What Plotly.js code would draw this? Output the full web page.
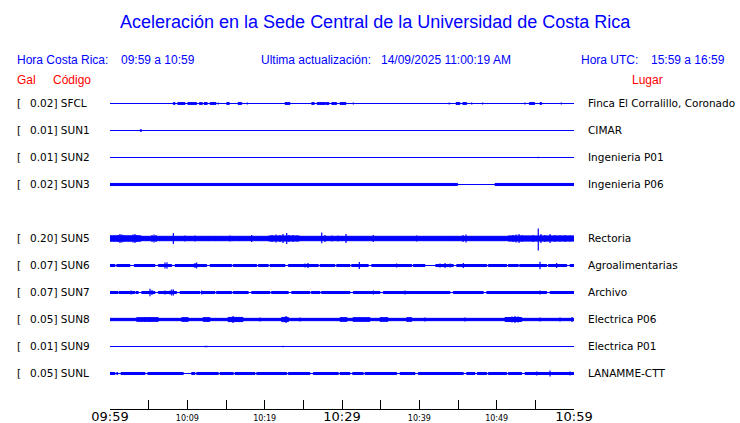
<!DOCTYPE html>
<html><head><meta charset="utf-8">
<script src="https://cdn.plot.ly/plotly-3.0.1.min.js"></script>
<style>html,body{margin:0;padding:0;background:#fff}#chart{width:740px;height:423px}</style>
</head><body><div id="chart"></div>
<script>
// ---- data (times in minutes after 09:59 local, amplitudes in Gal) ----
const stationCodes = ['SFCL','SUN1','SUN2','SUN3','SUN5','SUN6','SUN7','SUN8','SUN9','SUNL'];
const peakGal = ['0.02','0.01','0.01','0.02','0.20','0.07','0.07','0.05','0.01','0.05'];
const places = ['Finca El Corralillo, Coronado','CIMAR','Ingenieria P01','Ingenieria P06','Rectoria','Agroalimentarias','Archivo','Electrica P06','Electrica P01','LANAMME-CTT'];
const tickMinutes = [0,5,10,15,20,25,30,35,40,45,50,55,60];
const tickLabels = ['09:59','','10:09','','10:19','','10:29','','10:39','','10:49','','10:59'];
const bigTickLabels = ['09:59','10:29','10:59'];

// SFCL
const bandSFCL = 0;
const gapsSFCL = [];
const burstsSFCL = [[8.19,8.41,0.016],[8.75,9.70,0.016],[10.05,11.21,0.016],[11.55,11.94,0.016],[12.16,12.58,0.016],[12.93,13.71,0.016],[15.09,15.43,0.016],[16.55,17.03,0.016],[22.63,23.28,0.016],[26.08,26.42,0.016],[26.77,27.80,0.016],[27.89,28.32,0.016],[28.67,29.31,0.016],[29.74,30.52,0.016],[44.74,45.26,0.016],[45.61,46.12,0.016],[54.22,54.92,0.016],[55.60,55.82,0.016]];
const spikesSFCL = [[14.00,0.016],[17.75,0.016],[31.46,0.016],[43.87,0.016],[46.77,0.016],[48.19,0.016],[53.66,0.016],[58.36,0.016]];
// SUN1
const bandSUN1 = 0;
const gapsSUN1 = [];
const burstsSUN1 = [[3.88,4.10,0.012]];
const spikesSUN1 = [[5.73,0.008],[6.04,0.008],[8.70,0.006],[56.55,0.006]];
// SUN2
const bandSUN2 = 0;
const gapsSUN2 = [];
const burstsSUN2 = [];
const spikesSUN2 = [[55.38,0.012]];
// SUN3
const bandSUN3 = 0.019;
const gapsSUN3 = [[44.94,49.78]];
const burstsSUN3 = [];
const spikesSUN3 = [[4.27,0.024],[7.76,0.024],[18.10,0.024],[24.57,0.024],[32.33,0.024],[40.09,0.024],[53.02,0.024],[58.19,0.024]];
// SUN5
const bandSUN5 = 0.04;
const gapsSUN5 = [];
const burstsSUN5 = [[0,4,0.048],[20.5,24.5,0.045],[51.5,60,0.046]];
const spikesSUN5 = [[0.26,0.045],[0.52,0.055],[1.03,0.064],[1.29,0.082],[1.55,0.073],[1.81,0.055],[2.59,0.045],[2.97,0.073],[3.23,0.082],[3.49,0.064],[4.14,0.045],[4.78,0.045],[5.43,0.064],[5.69,0.073],[5.95,0.064],[6.47,0.045],[8.19,0.1],[9.05,0.045],[9.70,0.055],[10.34,0.045],[10.99,0.055],[11.90,0.045],[12.67,0.045],[13.58,0.045],[14.48,0.045],[15.52,0.055],[15.91,0.045],[16.81,0.045],[18.32,0.064],[19.66,0.045],[20.95,0.064],[21.47,0.073],[21.98,0.064],[22.37,0.082],[22.85,0.1],[23.15,0.064],[23.66,0.064],[24.18,0.055],[24.83,0.045],[25.86,0.045],[26.64,0.045],[27.38,0.11,0.085],[27.80,0.064],[28.71,0.055],[29.48,0.055],[30.00,0.045],[30.52,0.082],[31.29,0.045],[32.33,0.045],[33.10,0.045],[34.05,0.064],[34.91,0.045],[35.95,0.045],[36.98,0.045],[37.89,0.045],[38.79,0.045],[39.66,0.055],[40.60,0.045],[41.64,0.045],[42.67,0.045],[44.00,0.045],[44.74,0.045],[45.65,0.064],[46.03,0.073],[46.81,0.045],[47.84,0.045],[49.14,0.045],[50.43,0.045],[51.47,0.045],[52.11,0.064],[52.50,0.073],[52.89,0.082],[53.28,0.064],[54.05,0.045],[54.70,0.064],[55.38,0.18,0.22],[55.73,0.082],[56.25,0.064],[56.90,0.082],[57.54,0.064],[58.19,0.055],[58.84,0.064],[59.48,0.055]];
// SUN6
const bandSUN6 = 0.018;
const gapsSUN6 = [[0.65,0.87],[2.59,3.14],[5.82,6.25],[7.98,8.41],[12.50,12.93],[15.74,15.94],[18.97,19.18],[20.47,20.69],[22.63,23.06],[26.94,27.16],[29.09,29.31],[31.03,31.25],[33.40,33.84],[39.01,39.22],[40.73,42.12],[44.39,44.83],[48.71,48.92],[51.30,51.51],[52.80,53.02],[56.47,56.68],[59.06,59.48]];
const burstsSUN6 = [];
const spikesSUN6 = [[3.45,0.027],[4.53,0.027],[7.11,0.055],[7.37,0.058],[9.05,0.027],[10.99,0.045],[11.21,0.055],[16.81,0.027],[18.10,0.027],[19.40,0.027],[20.95,0.027],[23.50,0.027],[25.22,0.036],[25.60,0.045],[28.45,0.027],[32.24,0.064],[34.91,0.027],[37.07,0.036],[42.67,0.036],[43.32,0.045],[43.97,0.036],[45.69,0.045],[46.55,0.027],[49.14,0.027],[53.02,0.027],[54.05,0.027],[55.60,0.07],[57.76,0.045]];
// SUN7
const bandSUN7 = 0.018;
const gapsSUN7 = [[1.03,1.16],[3.23,3.36],[3.66,4.10],[5.82,6.25],[8.62,9.05],[11.64,11.83],[13.58,13.77],[15.74,15.94],[17.88,18.32],[20.69,20.88],[23.06,23.50],[25.86,26.06],[27.16,27.35],[31.03,31.46],[34.91,35.34],[43.97,44.39],[48.27,48.71],[56.47,56.90]];
const burstsSUN7 = [];
const spikesSUN7 = [[0.26,0.027],[0.91,0.027],[1.55,0.027],[2.20,0.027],[2.72,0.036],[5.17,0.07],[5.43,0.045],[6.47,0.027],[7.11,0.036],[7.76,0.036],[7.98,0.055],[8.19,0.055],[9.83,0.027],[11.86,0.036],[12.93,0.027],[14.22,0.027],[16.29,0.027],[17.46,0.027],[19.66,0.027],[21.98,0.027],[24.57,0.027],[26.12,0.027],[28.45,0.027],[30.13,0.027],[31.68,0.027],[34.05,0.036],[36.21,0.027],[37.50,0.027],[38.15,0.036],[40.09,0.027],[42.03,0.027],[43.45,0.027],[45.26,0.027],[46.29,0.027],[47.84,0.027],[50.04,0.027],[51.72,0.027],[53.02,0.027],[54.44,0.027],[55.60,0.036],[57.54,0.027],[58.84,0.027],[59.48,0.027]];
// SUN8
const bandSUN8 = 0.021;
const gapsSUN8 = [];
const burstsSUN8 = [[3.45,6.25,0.033],[9.27,10.12,0.033],[12.03,12.93,0.033],[15.26,17.20,0.038],[22.20,23.06,0.038],[29.74,30.65,0.033],[31.42,33.62,0.033],[34.91,35.95,0.033],[38.37,39.01,0.033],[51.08,53.24,0.036]];
const spikesSUN8 = [[4.53,0.045],[5.17,0.045],[15.91,0.064],[19.40,0.036],[22.76,0.064],[24.57,0.036],[40.73,0.036],[45.91,0.036],[51.98,0.055],[52.37,0.064],[52.76,0.055],[55.60,0.036],[58.19,0.036],[59.74,0.045]];
// SUN9
const bandSUN9 = 0;
const gapsSUN9 = [];
const burstsSUN9 = [];
const spikesSUN9 = [[6.89,0.008],[12.28,0.012],[12.50,0.012],[14.00,0.01],[16.81,0.006],[21.98,0.01],[22.37,0.012],[22.63,0.01],[29.31,0.006],[33.75,0.006],[50.34,0.006],[52.15,0.006],[52.72,0.006],[55.38,0.01],[56.16,0.006],[58.97,0.006]];
// SUNL
const bandSUNL = 0.018;
const gapsSUNL = [[0.65,0.87],[1.00,1.42],[4.53,4.88],[9.48,10.56],[10.99,11.21],[14.00,14.22],[15.94,16.16],[18.75,18.97],[22.85,23.06],[25.86,26.29],[29.52,29.74],[31.03,31.38],[32.75,32.97],[37.07,37.50],[39.44,39.87],[45.69,46.12],[47.20,47.50],[48.71,48.92],[51.30,51.51],[53.24,53.66]];
const burstsSUNL = [];
const spikesSUNL = [[2.59,0.024],[6.69,0.027],[11.64,0.024],[18.10,0.024],[23.50,0.027],[27.16,0.024],[34.91,0.024],[42.67,0.024],[50.43,0.024],[55.18,0.036],[56.90,0.056],[59.48,0.036]];

// ---- drawing ----
const bands  = [bandSFCL,bandSUN1,bandSUN2,bandSUN3,bandSUN5,bandSUN6,bandSUN7,bandSUN8,bandSUN9,bandSUNL];
const gaps   = [gapsSFCL,gapsSUN1,gapsSUN2,gapsSUN3,gapsSUN5,gapsSUN6,gapsSUN7,gapsSUN8,gapsSUN9,gapsSUNL];
const bursts = [burstsSFCL,burstsSUN1,burstsSUN2,burstsSUN3,burstsSUN5,burstsSUN6,burstsSUN7,burstsSUN8,burstsSUN9,burstsSUNL];
const spikes = [spikesSFCL,spikesSUN1,spikesSUN2,spikesSUN3,spikesSUN5,spikesSUN6,spikesSUN7,spikesSUN8,spikesSUN9,spikesSUNL];

const BLUE = 'rgb(0,0,255)';
const GAIN = 55;            // pixels per Gal (common to all traces)
const PLOT_TOP = 90, PLOT_BOTTOM = 409, PLOT_LEFT = 110, PLOT_RIGHT = 574;
const rowSlots = [0,1,2,3,5,6,7,8,9,10];
const rowPx = s => 103 + 27*s;
const yOf = s => PLOT_BOTTOM - (rowPx(s) + 0.5);
const T0 = tickMinutes[0], T1 = tickMinutes[tickMinutes.length-1];

const traces = [];
stationCodes.forEach((code, i) => {
  const base = yOf(rowSlots[i]);
  traces.push({x:[T0,T1], y:[base,base], mode:'lines', line:{color:BLUE,width:1}, hoverinfo:'skip'});
  const blocks = [];
  if (bands[i] > 0) {
    let cur = T0;
    gaps[i].forEach(g => { if (g[0] > cur) blocks.push([cur, g[0], bands[i]]); cur = g[1]; });
    if (cur < T1) blocks.push([cur, T1, bands[i]]);
  }
  bursts[i].forEach(b => blocks.push(b));
  if (blocks.length) {
    const bx = [], by = [];
    blocks.forEach(b => {
      const a = b[2]*GAIN;
      bx.push(b[0], b[1], b[1], b[0], b[0], null);
      by.push(base+a, base+a, base-a, base-a, base+a, null);
    });
    traces.push({x:bx, y:by, mode:'lines', fill:'toself', fillcolor:BLUE, line:{color:BLUE,width:1}, hoverinfo:'skip'});
  }
  if (spikes[i].length) {
    const sx = [], sy = [];
    spikes[i].forEach(s => {
      const up = s[1]*GAIN, dn = (s.length > 2 ? s[2] : s[1])*GAIN;
      sx.push(s[0], s[0], null);
      sy.push(base+up, base-dn, null);
    });
    traces.push({x:sx, y:sy, mode:'lines', line:{color:BLUE,width:1.2}, hoverinfo:'skip'});
  }
});

const W = PLOT_RIGHT - PLOT_LEFT, H = PLOT_BOTTOM - PLOT_TOP;
const px = v => (v - PLOT_LEFT)/W;
const py = v => (PLOT_BOTTOM - v)/H;
const LAB = {family:'DejaVu Sans', size:10.5, color:'black'};
const HDR = {family:'Liberation Sans, Arial, sans-serif', size:12, color:BLUE};
const RED = {family:'Liberation Sans, Arial, sans-serif', size:12, color:'red'};

const ann = [];
const addA = (text, x, y, font, anchor) => ann.push({text, x:px(x), y:py(y), xref:'paper', yref:'paper', showarrow:false, xanchor:anchor||'left', yanchor:'middle', font});
addA('Aceleración en la Sede Central de la Universidad de Costa Rica', 375.5, 22, {family:'Liberation Sans, Arial, sans-serif', size:18, color:BLUE}, 'center');
addA('Hora Costa Rica:', 15, 60, HDR);
addA('09:59 a 10:59', 119, 60, HDR);
addA('Ultima actualización:', 259, 60, HDR);
addA('14/09/2025 11:00:19 AM', 379, 60, HDR);
addA('Hora UTC:', 579, 60, HDR);
addA('15:59 a 16:59', 649, 60, HDR);
addA('Gal', 15, 80, RED);
addA('Código', 51, 80, RED);
addA('Lugar', 630, 80, RED);
stationCodes.forEach((code, i) => {
  const r = rowPx(rowSlots[i]);
  addA('[', 15, r, LAB);
  addA(peakGal[i] + '] ' + code, 27.7, r, LAB);
  addA(places[i], 586, r, LAB);
});

const tickText = tickLabels.map(t => bigTickLabels.includes(t) ? t : (t ? '<span style="font-size:8px">' + t + '</span>' : ''));

const layout = {
  width:740, height:423,
  margin:{l:PLOT_LEFT, r:740-PLOT_RIGHT, t:PLOT_TOP, b:423-PLOT_BOTTOM, pad:0},
  paper_bgcolor:'white', plot_bgcolor:'white',
  showlegend:false,
  xaxis:{range:[T0,T1], tickvals:tickMinutes, ticktext:tickText, ticks:'inside', ticklen:9, tickwidth:1, tickcolor:'black',
         showline:true, linecolor:'black', linewidth:1, showgrid:false, zeroline:false, ticklabelstandoff:-5,
         tickfont:{family:'DejaVu Sans', size:13, color:'black'}, fixedrange:true},
  yaxis:{range:[0, H], visible:false, fixedrange:true},
  annotations:ann
};
Plotly.newPlot('chart', traces, layout, {staticPlot:true, displayModeBar:false});
</script>
</body></html>
